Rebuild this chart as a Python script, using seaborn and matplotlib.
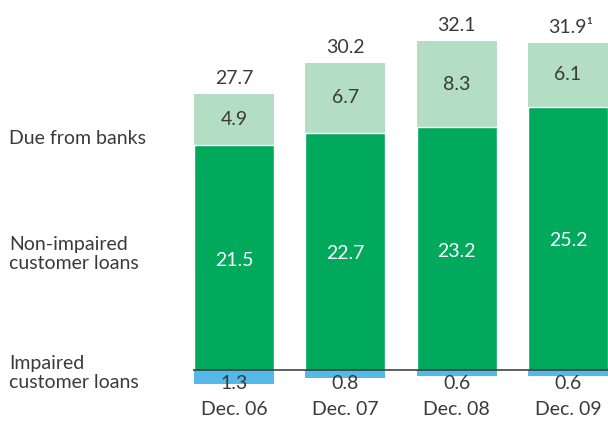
import matplotlib
matplotlib.use("Agg")
import matplotlib.pyplot as plt
import seaborn as sns
import pandas as pd

categories = ["Dec. 06", "Dec. 07", "Dec. 08", "Dec. 09"]
due_from_banks = [4.9, 6.7, 8.3, 6.1]
non_impaired = [21.5, 22.7, 23.2, 25.2]
impaired = [1.3, 0.8, 0.6, 0.6]
totals = ["27.7", "30.2", "32.1", "31.9\u00b9"]
row_labels = ["Due from banks", "Non-impaired\ncustomer loans", "Impaired\ncustomer loans"]

sns.set_style("white")
plt.rcParams["font.family"] = ["Lato", "DejaVu Sans"]

TXT = "#3a3a3a"
C_DUE = "#b3dec4"
C_NON = "#00a95c"
C_IMP = "#55b9e8"

df = pd.DataFrame({
    "cat": categories,
    "top": [a + b for a, b in zip(non_impaired, due_from_banks)],
    "non": non_impaired,
    "imp": [-v for v in impaired],
})

fig = plt.figure(figsize=(6.08, 4.21), dpi=100)
ax = fig.add_axes([0, 0, 1, 1])

sns.barplot(data=df, x="cat", y="top", color=C_DUE, saturation=1, width=0.72,
            ax=ax, linewidth=0)
sns.barplot(data=df, x="cat", y="non", color=C_NON, saturation=1, width=0.72,
            ax=ax, edgecolor="white", linewidth=1)
sns.barplot(data=df, x="cat", y="imp", color=C_IMP, saturation=1, width=0.72,
            ax=ax, linewidth=0)

ax.set_xlim(-2.102, 3.359)
ax.set_ylim(-4.885, 35.4)
ax.axis("off")

ax.plot([-0.37, 3.4], [0, 0], color="#333333", lw=1.1, solid_capstyle="butt")

fs = 14
for i, cat in enumerate(categories):
    n = non_impaired[i]
    d = due_from_banks[i]
    ax.text(i, n / 2 - 0.25, f"{n}", ha="center", va="center", color="white", fontsize=fs)
    ax.text(i, n + d / 2, f"{d}", ha="center", va="center", color=TXT, fontsize=fs)
    ax.annotate(totals[i], (i, n + d), xytext=(0 if i < 3 else 2, 5), textcoords="offset points",
                ha="center", va="bottom", color=TXT, fontsize=fs)
    ax.text(i, -1.34, f"{impaired[i]}", ha="center", va="center", color=TXT, fontsize=fs)
    ax.text(i, -3.83, cat, ha="center", va="center", color=TXT, fontsize=fs)

xl = -2.102 + 9 / 111.33
ax.text(xl, (370 - 139) / 10.45, row_labels[0], ha="left", va="center", color=TXT, fontsize=fs)
ax.text(xl, (370 - 254) / 10.45, row_labels[1], ha="left", va="center", color=TXT, fontsize=fs,
        linespacing=1.2)
ax.text(xl, (370 - 373) / 10.45, row_labels[2], ha="left", va="center", color=TXT, fontsize=fs,
        linespacing=1.2)

fig.savefig("out.png", dpi=100)
